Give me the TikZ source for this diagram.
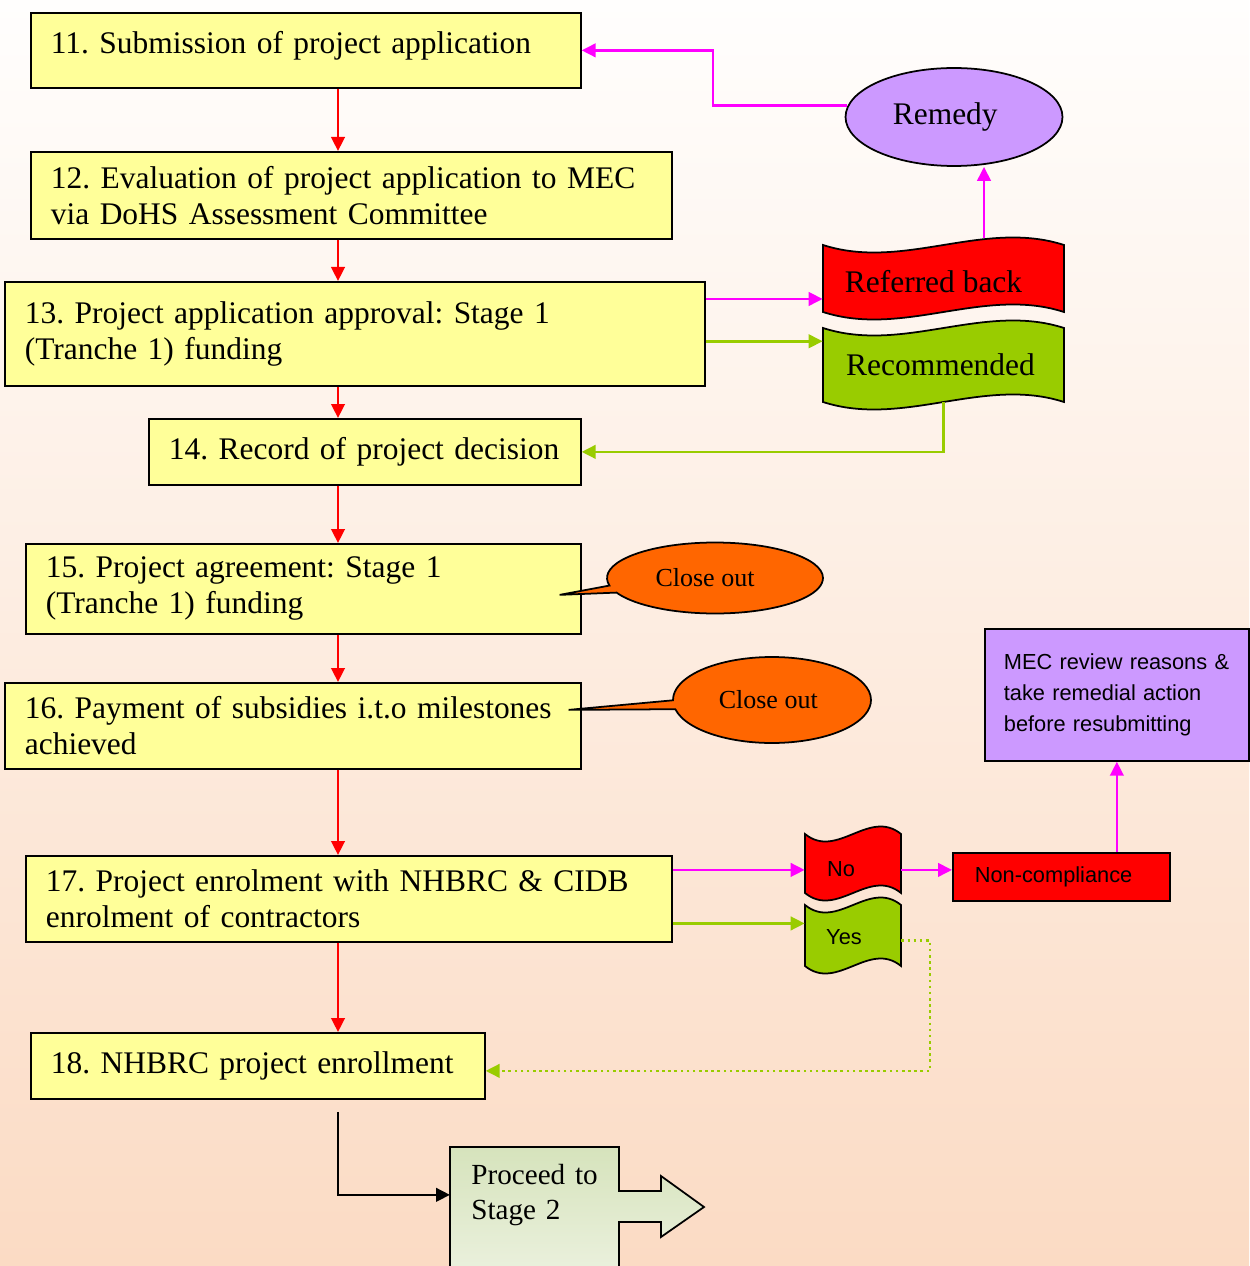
\documentclass[tikz,border=0pt]{standalone}
\usepackage{fontspec}
\setmainfont{Liberation Serif}
\newfontfamily\arialfont{Liberation Sans}
\usetikzlibrary{arrows.meta,calc,fit,shapes.geometric,shapes.callouts}

\definecolor{stageyellow}{RGB}{255,255,153}
\definecolor{flagred}{RGB}{255,0,0}
\definecolor{flaggreen}{RGB}{153,204,0}
\definecolor{linkmagenta}{RGB}{255,0,255}
\definecolor{remedypurple}{RGB}{204,153,255}
\definecolor{closeorange}{RGB}{255,102,0}
\definecolor{bgtop}{RGB}{255,254,253}
\definecolor{bgbottom}{RGB}{251,219,196}
\definecolor{proctop}{RGB}{214,227,188}
\definecolor{procbottom}{RGB}{235,241,222}

\newcommand{\stagefont}{\fontsize{17.9}{20.5}\selectfont}
\newcommand{\closefont}{\fontsize{14.8}{17}\selectfont}
\newcommand{\procfont}{\fontsize{16.6}{20}\selectfont}
\newcommand{\notefont}{\arialfont\fontsize{12.4}{17.6}\selectfont}

% wavy banner between two corners, with its text node on top
\newcommand{\waveflag}[6]{%
  \coordinate (#1-nw) at (#3);
  \coordinate (#1-se) at (#4);
  \path[wave,fill=#2] let \p1=(#1-nw), \p2=(#1-se) in
    (\p1) .. controls ({\x1+(\x2-\x1)/3},{\y1-0.52cm}) and ({\x1+2*(\x2-\x1)/3},{\y1+0.52cm}) .. (\x2,\y1)
    -- (\p2) .. controls ({\x1+2*(\x2-\x1)/3},{\y2+0.52cm}) and ({\x1+(\x2-\x1)/3},{\y2-0.52cm}) .. (\x1,\y2)
    -- cycle;
  \node[fit=(#1-nw)(#1-se),inner sep=0pt] (#1) {};
  \node[inner sep=0pt] (#1-text) at ($(#1.center)+(#5)$) {#6};
}

\begin{document}
\frenchspacing
\begin{tikzpicture}[x=0.02cm,y=-0.02cm]
  \tikzstyle{stage}=[rectangle,draw=black,line width=1pt,fill=stageyellow,anchor=north west,inner xsep=0.4cm,inner ysep=0pt,align=left,font=\stagefont]
  \tikzstyle{note}=[rectangle,draw=black,line width=1pt,anchor=north west,inner ysep=0pt,align=left,font=\notefont]
  \tikzstyle{wave}=[draw=black,line width=1pt]
  \tikzstyle{closeout}=[ellipse callout,draw=black,line width=1pt,fill=closeorange,inner sep=0pt,callout pointer arc=12,font=\closefont]
  \tikzstyle{flow}=[line width=1.5pt,-{Triangle[length=0.28cm,width=0.27cm]}]

  \useasboundingbox (0,0) rectangle (1249,1266);
  \shade[top color=bgtop,bottom color=bgbottom] (0,0) rectangle (1249,1266);

  \node[stage,minimum width=11cm,minimum height=1.5cm,text width=10.2cm,text depth=0.3cm] (b11) at (30,12) {11. Submission of project application};
  \node[stage,minimum width=12.82cm,minimum height=1.74cm,text width=12.02cm] (b12) at (30,151) {12. Evaluation of project application to MEC\\via DoHS Assessment Committee};
  \node[stage,minimum width=14cm,minimum height=2.08cm,text width=13.2cm] (b13) at (4,281) {13. Project application approval: Stage 1\\(Tranche 1) funding};
  \node[stage,minimum width=8.64cm,minimum height=1.32cm,text width=7.84cm] (b14) at (148,418) {14. Record of project decision};
  \node[stage,minimum width=11.1cm,minimum height=1.8cm,text width=10.3cm] (b15) at (25,543) {15. Project agreement: Stage 1\\(Tranche 1) funding};
  \node[stage,minimum width=11.52cm,minimum height=1.72cm,text width=10.72cm] (b16) at (4,682) {16. Payment of subsidies i.t.o milestones\\achieved};
  \node[stage,minimum width=12.92cm,minimum height=1.72cm,text width=12.12cm] (b17) at (25,855) {17. Project enrolment with NHBRC \& CIDB\\enrolment of contractors};
  \node[stage,minimum width=9.08cm,minimum height=1.32cm,text width=8.28cm] (b18) at (30,1032) {18. NHBRC project enrollment};

  \node[ellipse,draw=black,line width=1pt,fill=remedypurple,minimum width=4.34cm,minimum height=1.96cm,font=\stagefont] (remedy) at (954,117) {Remedy\hspace*{0.35cm}};

  \waveflag{refback}{flagred}{823,245}{1064,312}{-10,3}{\stagefont Referred back}
  \waveflag{recom}{flaggreen}{823,328}{1064,402}{-3,0}{\stagefont Recommended}
  \waveflag{no}{flagred}{805,834}{901,893}{-12,6}{\notefont No}
  \waveflag{yes}{flaggreen}{805,905}{901,966}{-9,2}{\notefont Yes}

  \node[note,fill=flagred,minimum width=4.34cm,minimum height=0.96cm,text width=3.46cm,inner xsep=0.44cm] (ncomp) at (952,852) {Non-compliance};
  \node[note,fill=remedypurple,minimum width=5.28cm,minimum height=2.64cm,text width=4.52cm,inner xsep=0.38cm] (mec) at (984,628) {MEC review reasons \&\\take remedial action\\before resubmitting};

  \coordinate (tip15) at ($(b15.east)+(-22,6)$);
  \coordinate (tip16) at ($(b16.east)+(-13,-16)$);
  \node[closeout,minimum width=4.32cm,minimum height=1.42cm,callout absolute pointer={(tip15)}] (close15) at (715,578) {Close out\hspace*{0.4cm}};
  \node[closeout,minimum width=3.96cm,minimum height=1.72cm,callout absolute pointer={(tip16)}] (close16) at (772,700) {Close out\hspace*{0.15cm}};

  \shade[top color=proctop,bottom color=procbottom,draw=black,line width=1pt] (450,1147) -- (619,1147) -- (619,1191) -- (661,1191) -- (661,1176) -- (704,1207) -- (661,1237) -- (661,1222) -- (619,1222) -- (619,1275) -- (450,1275) -- cycle;
  \node[anchor=north west,minimum width=3.38cm,minimum height=1.9cm,text width=2.96cm,inner xsep=0.42cm,inner ysep=0pt,align=left,font=\procfont] (proceed) at (450,1147) {Proceed to\\Stage 2};

  \coordinate (spine) at (338,0);
  \coordinate (remx) at (713,0);
  \coordinate (rbx) at (984,0);
  \coordinate (yesx) at (930,0);
  \coordinate (m13) at ($(b13.north east)!0.17!(b13.south east)$);
  \coordinate (g13) at ($(b13.north east)!0.57!(b13.south east)$);
  \coordinate (m17) at ($(b17.north east)!0.17!(b17.south east)$);
  \coordinate (g17) at ($(b17.north east)!0.78!(b17.south east)$);

  \path[flow,color=flagred]
  (b11.south -| spine) edge (b12.north -| spine)
  (b12.south -| spine) edge (b13.north -| spine)
  (b13.south -| spine) edge (b14.north -| spine)
  (b14.south -| spine) edge (b15.north -| spine)
  (b15.south -| spine) edge (b16.north -| spine)
  (b16.south -| spine) edge (b17.north -| spine)
  (b17.south -| spine) edge (b18.north -| spine);

  \draw[flow,color=linkmagenta] (remedy.174) -- (remedy.174 -| remx) |- (b11.east);
  \draw[flow,color=linkmagenta] (m13) -- (m13 -| refback.west);
  \draw[flow,color=flaggreen] (g13) -- (g13 -| recom.west);
  \draw[flow,color=linkmagenta] ($(refback.north -| rbx)+(0,-7)$) -- (remedy.south -| rbx);
  \draw[flow,color=flaggreen] (recom.south) |- (b14.east);

  \draw[flow,color=linkmagenta] (m17) -- (m17 -| no.west);
  \draw[flow,color=linkmagenta] (m17 -| no.east) -- (m17 -| ncomp.west);
  \draw[flow,color=linkmagenta] (ncomp.north -| mec.south) -- (mec.south);
  \draw[flow,color=flaggreen] (g17) -- (g17 -| yes.west);
  \draw[flow,color=flaggreen,dotted] ($(yes.east)+(0,5)$) -- ($(yes.east -| yesx)+(0,5)$) |- ($(b18.east)+(0,5)$);
  \draw[flow,color=black] ($(b18.south -| spine)+(0,12)$) |- (proceed.west);
\end{tikzpicture}
\end{document}
